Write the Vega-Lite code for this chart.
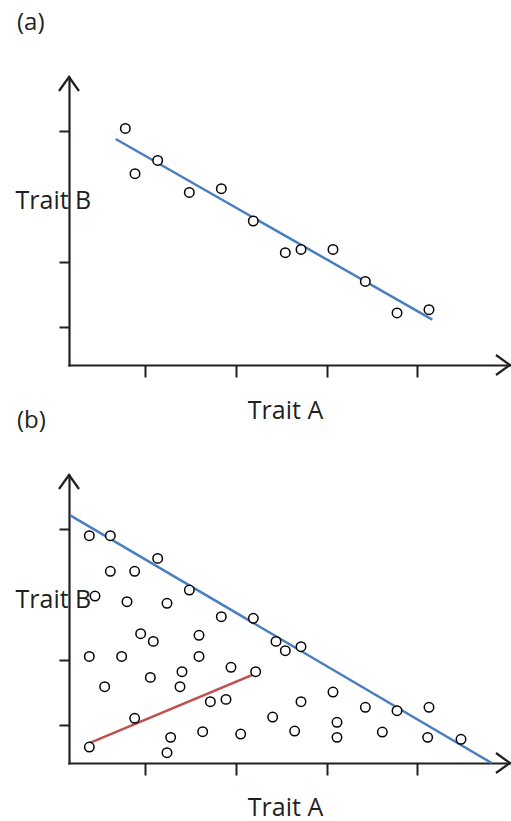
{
  "$schema": "https://vega.github.io/schema/vega-lite/v6.json",
  "autosize": {"type": "pad"},
  "padding": {"left": 15, "top": 10, "right": 0, "bottom": 5},
  "background": "white",
  "bounds": "flush",
  "spacing": 110,
  "config": {"view": {"stroke": null}, "font": "Open Sans"},
  "datasets": {
    "pointsA": [
      {"x": 12.77, "y": 82.15}, {"x": 14.97, "y": 66.42}, {"x": 20.11, "y": 71.04},
      {"x": 27.28, "y": 59.93}, {"x": 34.54, "y": 61.22}, {"x": 41.79, "y": 50.0},
      {"x": 49.05, "y": 38.99}, {"x": 52.61, "y": 40.14}, {"x": 59.86, "y": 40.14},
      {"x": 67.19, "y": 29.03}, {"x": 74.38, "y": 18.06}, {"x": 81.63, "y": 19.2}
    ],
    "lineA": [
      {"x": 10.59, "y": 78.47, "s": "fit"}, {"x": 82.38, "y": 15.73, "s": "fit"}
    ],
    "pointsB": [
      {"x": 4.61, "y": 78.92}, {"x": 9.37, "y": 78.92}, {"x": 20.11, "y": 71.05},
      {"x": 9.37, "y": 66.54}, {"x": 14.89, "y": 66.54}, {"x": 5.9, "y": 57.97},
      {"x": 13.15, "y": 56.01}, {"x": 22.22, "y": 55.43}, {"x": 27.29, "y": 60.06},
      {"x": 34.54, "y": 50.8}, {"x": 41.8, "y": 50.22}, {"x": 16.25, "y": 44.9},
      {"x": 19.12, "y": 42.23}, {"x": 29.48, "y": 44.32}, {"x": 4.61, "y": 37.02},
      {"x": 11.94, "y": 37.02}, {"x": 29.48, "y": 37.02}, {"x": 46.94, "y": 42.23},
      {"x": 49.05, "y": 38.99}, {"x": 52.61, "y": 40.38}, {"x": 36.73, "y": 33.21},
      {"x": 42.33, "y": 31.7}, {"x": 25.62, "y": 31.7}, {"x": 18.44, "y": 29.73},
      {"x": 25.17, "y": 26.49}, {"x": 8.09, "y": 26.49}, {"x": 32.05, "y": 21.28},
      {"x": 35.6, "y": 22.09}, {"x": 52.61, "y": 21.28}, {"x": 59.86, "y": 24.64},
      {"x": 14.89, "y": 15.5}, {"x": 46.18, "y": 15.96}, {"x": 67.2, "y": 19.32},
      {"x": 74.38, "y": 18.16}, {"x": 81.63, "y": 19.32}, {"x": 60.77, "y": 14.11},
      {"x": 23.05, "y": 8.9}, {"x": 30.31, "y": 10.87}, {"x": 38.93, "y": 10.06},
      {"x": 51.17, "y": 11.1}, {"x": 60.77, "y": 8.9}, {"x": 71.05, "y": 10.75},
      {"x": 81.33, "y": 8.9}, {"x": 88.89, "y": 8.21}, {"x": 4.61, "y": 5.55},
      {"x": 22.22, "y": 3.58}
    ],
    "linesB": [
      {"x": 0.38, "y": 85.87, "s": "upper"}, {"x": 95.84, "y": 0, "s": "upper"},
      {"x": 4.61, "y": 6.93, "s": "lower"}, {"x": 43.31, "y": 31.7, "s": "lower"}
    ],
    "arrows": [
      {"x": 0, "y": 100, "dir": "up"}, {"x": 100, "y": 0, "dir": "right"}
    ]
  },
  "vconcat": [
    {
      "width": 441,
      "height": 288,
      "title": {"text": "(a)", "anchor": "start", "frame": "group", "dx": -52, "offset": 19, "baseline": "alphabetic", "fontSize": 24, "fontWeight": "normal", "color": "#231f20", "font": "Open Sans"},
      "layer": [
        {
          "data": {"name": "lineA"},
          "mark": {"type": "line", "strokeWidth": 2.5},
          "encoding": {
            "x": {"field": "x", "type": "quantitative", "scale": {"domain": [0, 100], "nice": false, "zero": false},
              "axis": {"values": [17.2, 37.9, 58.5, 78.9], "labels": false, "grid": false, "domainColor": "#231f20", "domainWidth": 2.2, "domainCap": "square", "tickColor": "#231f20", "tickWidth": 2, "tickSize": 12, "title": "Trait A", "titleFont": "Open Sans", "titleFontSize": 25, "titleFontWeight": "normal", "titleColor": "#231f20", "titleX": 216, "titleY": 53, "titleBaseline": "alphabetic", "titleAlign": "center"}},
            "y": {"field": "y", "type": "quantitative", "scale": {"domain": [0, 100], "nice": false, "zero": false},
              "axis": {"values": [13.1, 35.7, 81.1], "labels": false, "grid": false, "domainColor": "#231f20", "domainWidth": 2.2, "domainCap": "square", "tickColor": "#231f20", "tickWidth": 2, "tickSize": 10, "title": "Trait B", "titleFont": "Open Sans", "titleFontSize": 25, "titleFontWeight": "normal", "titleColor": "#231f20", "titleAngle": 0, "titleAlign": "left", "titleBaseline": "alphabetic", "titleX": -54, "titleY": 131}},
            "color": {"field": "s", "type": "nominal", "scale": {"domain": ["upper", "lower", "fit"], "range": ["#4a7ebf", "#c0504d", "#4a7ebf"]}, "legend": null}
          }
        },
        {
          "data": {"name": "pointsA"},
          "mark": {"type": "point", "filled": true, "fill": "white", "stroke": "black", "strokeWidth": 1.5, "size": 90, "opacity": 1},
          "encoding": {
            "x": {"field": "x", "type": "quantitative"},
            "y": {"field": "y", "type": "quantitative"}
          }
        },
        {
          "data": {"name": "arrows"},
          "mark": {"type": "point", "filled": false, "stroke": "#231f20", "strokeWidth": 2.2, "size": 784, "opacity": 1},
          "encoding": {
            "x": {"field": "x", "type": "quantitative"},
            "y": {"field": "y", "type": "quantitative"},
            "shape": {"field": "dir", "type": "nominal", "scale": {"domain": ["up", "right"], "range": ["M-0.714,1L0,0L0.714,1", "M-1,-0.714L0,0L-1,0.714"]}, "legend": null}
          }
        }
      ]
    },
    {
      "width": 441,
      "height": 288,
      "title": {"text": "(b)", "anchor": "start", "frame": "group", "dx": -52, "offset": 19, "baseline": "alphabetic", "fontSize": 24, "fontWeight": "normal", "color": "#231f20", "font": "Open Sans"},
      "layer": [
        {
          "data": {"name": "linesB"},
          "mark": {"type": "line", "strokeWidth": 2.5},
          "encoding": {
            "x": {"field": "x", "type": "quantitative", "scale": {"domain": [0, 100], "nice": false, "zero": false},
              "axis": {"values": [17.2, 37.9, 58.5, 78.9], "labels": false, "grid": false, "domainColor": "#231f20", "domainWidth": 2.2, "domainCap": "square", "tickColor": "#231f20", "tickWidth": 2, "tickSize": 12, "title": "Trait A", "titleFont": "Open Sans", "titleFontSize": 25, "titleFontWeight": "normal", "titleColor": "#231f20", "titleX": 216, "titleY": 52, "titleBaseline": "alphabetic", "titleAlign": "center"}},
            "y": {"field": "y", "type": "quantitative", "scale": {"domain": [0, 100], "nice": false, "zero": false},
              "axis": {"values": [13.2, 35.9, 81.2], "labels": false, "grid": false, "domainColor": "#231f20", "domainWidth": 2.2, "domainCap": "square", "tickColor": "#231f20", "tickWidth": 2, "tickSize": 10, "title": "Trait B", "titleFont": "Open Sans", "titleFontSize": 25, "titleFontWeight": "normal", "titleColor": "#231f20", "titleAngle": 0, "titleAlign": "left", "titleBaseline": "alphabetic", "titleX": -54, "titleY": 132}},
            "color": {"field": "s", "type": "nominal", "scale": {"domain": ["upper", "lower", "fit"], "range": ["#4a7ebf", "#c0504d", "#4a7ebf"]}, "legend": null}
          }
        },
        {
          "data": {"name": "pointsB"},
          "mark": {"type": "point", "filled": true, "fill": "white", "stroke": "black", "strokeWidth": 1.5, "size": 90, "opacity": 1},
          "encoding": {
            "x": {"field": "x", "type": "quantitative"},
            "y": {"field": "y", "type": "quantitative"}
          }
        },
        {
          "data": {"name": "arrows"},
          "mark": {"type": "point", "filled": false, "stroke": "#231f20", "strokeWidth": 2.2, "size": 784, "opacity": 1},
          "encoding": {
            "x": {"field": "x", "type": "quantitative"},
            "y": {"field": "y", "type": "quantitative"},
            "shape": {"field": "dir", "type": "nominal", "scale": {"domain": ["up", "right"], "range": ["M-0.714,1L0,0L0.714,1", "M-1,-0.714L0,0L-1,0.714"]}, "legend": null}
          }
        }
      ]
    }
  ]
}
